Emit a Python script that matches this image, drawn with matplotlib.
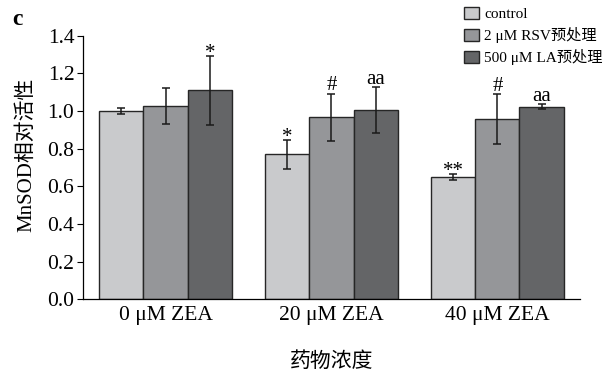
import numpy as np
import matplotlib
matplotlib.use("Agg")
import matplotlib.pyplot as plt
from matplotlib.patches import Patch

plt.rcParams['font.family'] = ['Liberation Serif', 'Noto Sans CJK SC']

# MnSOD 相对活性
groups = ['0 μM ZEA', '20 μM ZEA', '40 μM ZEA']
series = ['control', '2 μM RSV预处理', '500 μM LA预处理']
values = [
    [1.00, 0.77, 0.65],    # control
    [1.027, 0.967, 0.958],  # 2 μM RSV
    [1.11, 1.006, 1.023],   # 500 μM LA
]
errors = [
    [0.018, 0.076, 0.018],
    [0.095, 0.125, 0.132],
    [0.182, 0.12, 0.012],
]
marks = [
    ['', '*', '**'],
    ['', '#', '#'],
    ['*', 'aa', 'aa'],
]
colors = ['#c9cacc', '#959699', '#646567']

fig = plt.figure(figsize=(6.07, 3.74), dpi=100)
ax = fig.add_axes([0.1362, 0.1992, 0.8198, 0.7053])

x = np.arange(len(groups))
w = 0.267
for i in range(len(series)):
    xs = x + (i - 1) * w
    ax.bar(xs, values[i], width=w, color=colors[i], edgecolor='#262626',
           linewidth=1.0, zorder=2)
    ax.errorbar(xs, values[i], yerr=errors[i], fmt='none', ecolor='#1a1a1a',
                elinewidth=1.1, capsize=3.2, capthick=1.1, zorder=3)
    for xi, v, e, m in zip(xs, values[i], errors[i], marks[i]):
        if m:
            # the asterisk glyph sits high in the em box, pull it down
            dy = -5 if m.startswith('*') else -1
            ax.annotate(m, (xi, v + e), xytext=(0, dy), textcoords='offset points',
                        ha='center', va='bottom', fontsize=15)

ax.set_xlim(-0.5, 2.5)
ax.set_ylim(0, 1.4)
ax.set_yticks(np.arange(0, 1.41, 0.2))
ax.set_yticklabels([f'{t:.1f}' for t in np.arange(0, 1.41, 0.2)])
ax.set_xticks(x)
ax.set_xticklabels(groups)
ax.tick_params(axis='y', direction='out', length=4.5, width=0.8, pad=1.5, labelsize=15.5)
ax.tick_params(axis='x', direction='in', length=4.5, width=0.8, pad=5, labelsize=15.5)
for s in ['top', 'right']:
    ax.spines[s].set_visible(False)
for s in ['left', 'bottom']:
    ax.spines[s].set_linewidth(0.9)

ax.set_ylabel('MnSOD相对活性', fontsize=15)
ax.yaxis.set_label_coords(-0.094, 0.55)
ax.set_xlabel('药物浓度', fontsize=15, labelpad=19)

fig.text(0.02, 0.975, 'c', fontsize=17, fontweight='bold', va='top', ha='left')

handles = [Patch(facecolor=c, edgecolor='#262626', linewidth=1.0) for c in colors]
fig.legend(handles, series, loc='upper left', bbox_to_anchor=(0.76, 0.99),
           frameon=False, fontsize=11, handlelength=0.95, handleheight=0.85,
           handletextpad=0.35, labelspacing=0.4, borderpad=0.2, borderaxespad=0)

fig.savefig('out.png', dpi=100)
